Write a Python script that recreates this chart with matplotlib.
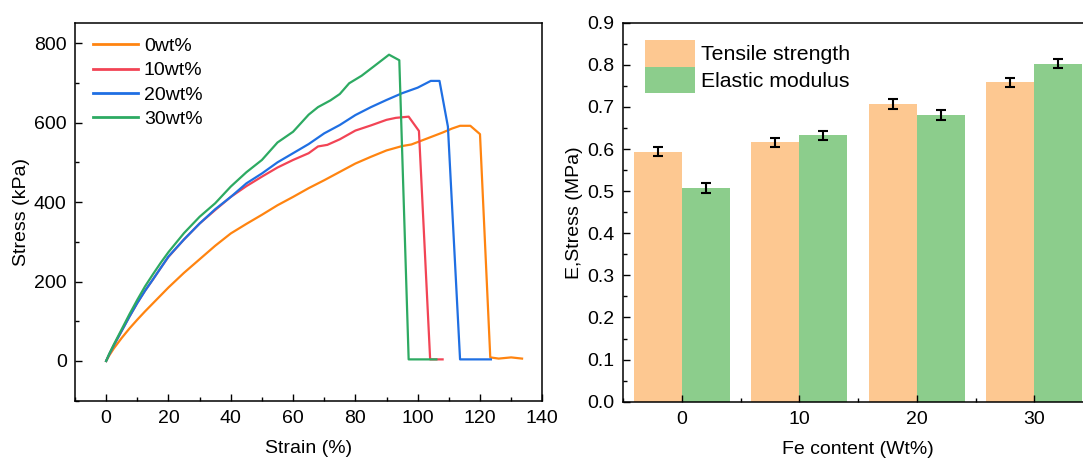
import matplotlib
matplotlib.use("Agg")
import matplotlib.pyplot as plt
from matplotlib.ticker import MultipleLocator, FormatStrFormatter
import numpy as np

plt.rcParams['font.family'] = ['Liberation Sans', 'DejaVu Sans']

# ---- Left panel data: stress-strain curves ----
strain_0 = [0, 1, 2.5, 5, 7.5, 10, 12.5, 15, 17.5, 20, 25, 30, 35, 40, 45, 50, 55, 60, 65, 70, 75, 80, 85, 90, 95, 98,
            103, 108, 111, 113.6, 116.9, 120, 123.3, 126, 130, 133.5]
stress_0 = [0, 14, 32, 58, 82, 104, 125, 145, 165, 185, 222, 256, 290, 321, 345, 368, 392, 413, 435, 455, 476, 497, 514, 530, 541, 545,
            560, 575, 585, 592, 592, 571, 9, 6, 9, 6]

strain_10 = [0, 1, 2.5, 5, 7.5, 10, 12.5, 15, 17.5, 20, 25, 30, 35, 40, 45, 50, 55, 60, 65, 68, 71, 75, 80, 85, 90, 93, 97.1,
             100.4, 104, 108]
stress_10 = [0, 17, 40, 76, 112, 146, 177, 205, 234, 262, 306, 346, 380, 413, 440, 464, 487, 506, 523, 540, 544, 558, 580, 593, 607, 612, 615,
             579, 4, 4]

strain_20 = [0, 1, 2.5, 5, 7.5, 10, 12.5, 15, 17.5, 20, 25, 30, 35, 40, 45, 50, 55, 60, 65, 70, 75, 80, 85, 90, 95, 100, 104.2,
             107, 109.7, 113.6, 123.5]
stress_20 = [0, 17, 40, 76, 112, 146, 177, 205, 234, 263, 306, 346, 382, 413, 447, 472, 500, 523, 546, 573, 594, 619, 639, 657, 674, 688, 705,
             705, 590, 4, 4]

strain_30 = [0, 1, 2.5, 5, 7.5, 10, 12.5, 15, 17.5, 20, 25, 30, 35, 40, 45, 50, 55, 60, 65, 68, 72, 75, 78, 82, 86, 90.8,
             94.1, 97.1, 106]
stress_30 = [0, 18, 42, 80, 118, 154, 188, 218, 247, 274, 322, 363, 397, 439, 475, 506, 550, 577, 620, 639, 656, 672, 699, 718, 742, 771,
             757, 4, 4]

curve_labels = ['0wt%', '10wt%', '20wt%', '30wt%']
curve_colors = ['#FF8410', '#F24455', '#1F6FE3', '#2DAA62']

# ---- Right panel data: bars ----
fe_content = [0, 10, 20, 30]
tensile = [0.594, 0.616, 0.708, 0.758]
tensile_err = [0.011, 0.011, 0.012, 0.011]
modulus = [0.507, 0.633, 0.681, 0.803]
modulus_err = [0.012, 0.011, 0.012, 0.011]

W, H = 1083, 462
fig = plt.figure(figsize=(W / 100, H / 100), dpi=100)

FS = 14

# Left axes
ax1 = fig.add_axes([75 / W, (H - 400.7) / H, 467.3 / W, 377.4 / H])
curves = [(strain_0, stress_0), (strain_10, stress_10), (strain_20, stress_20), (strain_30, stress_30)]
for (sx, sy), lab, col in zip(curves, curve_labels, curve_colors):
    ax1.plot(sx, sy, color=col, lw=1.6, label=lab)
ax1.set_xlim(-10, 140)
ax1.set_ylim(-100, 850)
ax1.xaxis.set_major_locator(MultipleLocator(20))
ax1.xaxis.set_minor_locator(MultipleLocator(10))
ax1.yaxis.set_major_locator(MultipleLocator(200))
ax1.yaxis.set_minor_locator(MultipleLocator(100))
ax1.set_xlabel('Strain (%)', fontsize=FS, labelpad=9)
ax1.set_ylabel('Stress (kPa)', fontsize=FS, labelpad=3)
leg1 = ax1.legend(loc='upper left', bbox_to_anchor=(0.039, 0.962), frameon=False,
                  fontsize=FS, handlelength=2.3, handletextpad=0.3,
                  labelspacing=0.34, borderpad=0, borderaxespad=0)
for h in leg1.get_lines():
    h.set_linewidth(2.0)

# Right axes
ax2 = fig.add_axes([623 / W, (H - 401.7) / H, 470 / W, 379 / H])
bw = 4.1
x = np.array(fe_content, dtype=float)
ax2.bar(x - bw, tensile, width=bw, align='edge', color='#FDC891', label='Tensile strength')
ax2.bar(x, modulus, width=bw, align='edge', color='#8CCD8C', label='Elastic modulus')
ax2.errorbar(x - bw / 2, tensile, yerr=tensile_err, fmt='none', ecolor='black',
             elinewidth=1.5, capsize=3.3, capthick=1.5)
ax2.errorbar(x + bw / 2, modulus, yerr=modulus_err, fmt='none', ecolor='black',
             elinewidth=1.5, capsize=3.3, capthick=1.5)
ax2.set_xlim(-5, 35)
ax2.set_ylim(0, 0.9)
ax2.set_xticks(fe_content)
ax2.xaxis.set_minor_locator(MultipleLocator(5))
ax2.yaxis.set_major_locator(MultipleLocator(0.1))
ax2.yaxis.set_minor_locator(MultipleLocator(0.05))
ax2.yaxis.set_major_formatter(FormatStrFormatter('%.1f'))
ax2.set_xlabel('Fe content (Wt%)', fontsize=FS, labelpad=9)
ax2.set_ylabel('E,Stress (MPa)', fontsize=FS, labelpad=3)
leg2 = ax2.legend(loc='upper left', bbox_to_anchor=(0.047, 0.954), frameon=False,
                  fontsize=15.3, handlelength=2.35, handleheight=1.55, handletextpad=0.3,
                  labelspacing=0, borderpad=0, borderaxespad=0)

for ax in (ax1, ax2):
    for sp in ax.spines.values():
        sp.set_linewidth(1.1)
    ax.tick_params(which='major', direction='in', length=5, width=1.0, labelsize=FS, pad=6)
    ax.tick_params(which='minor', direction='in', length=3, width=1.0)
    ax.tick_params(axis='x', which='major', pad=7)

fig.savefig('out.png', dpi=100)
